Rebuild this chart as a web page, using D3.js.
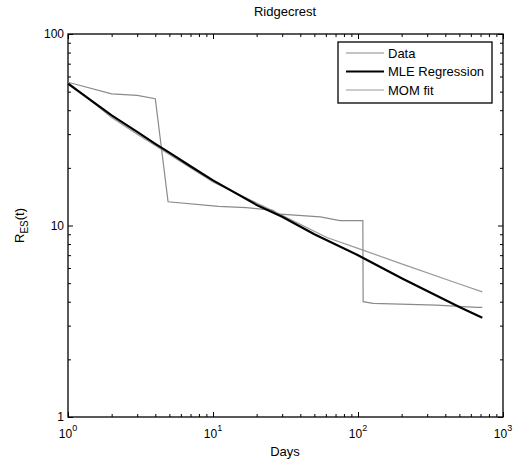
<!DOCTYPE html>
<html>
<head>
<meta charset="utf-8">
<script src="https://cdn.jsdelivr.net/npm/d3@7"></script>
<style>
  body { margin: 0; background: #fff; }
  text { font-family: "Liberation Sans", Arial, sans-serif; }
</style>
</head>
<body>
<svg id="chart" width="518" height="469"></svg>
<script>
// ---- data ----
const dataDays   = [1, 2, 3, 4, 4.9, 10.9, 17, 26, 27.5, 55, 75, 108, 108.5, 127, 347, 657, 720];
const dataValues = [56, 48.7, 47.8, 45.9, 13.3, 12.6, 12.4, 12.0, 11.5, 11.1, 10.6, 10.6, 4.0, 3.92, 3.84, 3.74, 3.74];

const mleDays   = [1, 2, 3, 4, 5, 7, 10, 20, 30, 50, 100, 200, 500, 720];
const mleValues = [55, 37.6, 30.8, 26.7, 24, 20.4, 17.2, 12.8, 11.1, 9.0, 7.0, 5.3, 3.75, 3.3];

const momDays   = [1, 2, 3, 4, 5, 10, 20, 30, 61, 100, 200, 500, 720];
const momValues = [56, 36.6, 30, 26.2, 23.5, 16.9, 13.1, 11.3, 8.65, 7.6, 6.3, 4.95, 4.5];

const xTickExps = [0, 1, 2, 3];
const yTickLabels = ["1", "10", "100"];
const legendLabels = ["Data", "MLE Regression", "MOM fit"];

// ---- layout ----
const svg = d3.select("#chart");
const L = 68, R = 503, T = 34, B = 417;

const x = d3.scaleLog().domain([1, 1000]).range([L, R]);
const y = d3.scaleLog().domain([1, 100]).range([B, T]);

// minor/major ticks
const xMinor = [], yMinor = [];
for (let d = 1; d < 1000; d *= 10) for (let k = 2; k <= 9; k++) xMinor.push(d * k);
for (let d = 1; d < 100; d *= 10) for (let k = 2; k <= 9; k++) yMinor.push(d * k);
const xMajor = xTickExps.map(e => Math.pow(10, e));
const yMajor = [1, 10, 100];

const g = svg.append("g");

function addAxis(axisFn, scale, vals, size, transform) {
  const a = axisFn(scale).tickValues(vals).tickSize(size).tickFormat("");
  const sel = g.append("g").attr("transform", transform).call(a);
  sel.select(".domain").remove();
  sel.selectAll("line").attr("stroke", "#000").attr("stroke-width", 1);
  return sel;
}
addAxis(d3.axisTop, x, xMinor, 3, `translate(0,${B})`);
addAxis(d3.axisTop, x, xMajor, 5, `translate(0,${B})`);
addAxis(d3.axisBottom, x, xMinor, 3, `translate(0,${T})`);
addAxis(d3.axisBottom, x, xMajor, 5, `translate(0,${T})`);
addAxis(d3.axisRight, y, yMinor, 3, `translate(${L},0)`);
addAxis(d3.axisRight, y, yMajor, 5, `translate(${L},0)`);
addAxis(d3.axisLeft, y, yMinor, 3, `translate(${R},0)`);
addAxis(d3.axisLeft, y, yMajor, 5, `translate(${R},0)`);

g.append("rect").attr("x", L).attr("y", T).attr("width", R - L).attr("height", B - T)
  .attr("fill", "none").attr("stroke", "#000").attr("stroke-width", 1.3);

xTickExps.forEach(e => {
  const t = g.append("text").attr("x", x(Math.pow(10, e))).attr("y", B + 21)
    .attr("text-anchor", "middle").attr("font-size", 12).attr("fill", "#000");
  t.append("tspan").text("10");
  t.append("tspan").attr("dy", -7).attr("font-size", 9).text(e);
});
yTickLabels.forEach((lab, i) => {
  g.append("text").attr("x", L - 4).attr("y", y(yMajor[i]) + 4)
    .attr("text-anchor", "end").attr("font-size", 12).attr("fill", "#000").text(lab);
});

g.append("text").attr("x", 285).attr("y", 16).attr("text-anchor", "middle")
  .attr("font-size", 13).text("Ridgecrest");
g.append("text").attr("x", 285).attr("y", 456).attr("text-anchor", "middle")
  .attr("font-size", 13).text("Days");
const yl = g.append("text").attr("transform", `translate(24,${(T + B) / 2}) rotate(-90)`)
  .attr("text-anchor", "middle").attr("font-size", 13);
yl.append("tspan").text("R");
yl.append("tspan").attr("dy", 4).attr("font-size", 10).text("ES");
yl.append("tspan").attr("dy", -4).text("(t)");

const line = d3.line().x(d => x(d[0])).y(d => y(d[1]));
svg.append("clipPath").attr("id", "clip").append("rect")
  .attr("x", L).attr("y", T).attr("width", R - L).attr("height", B - T);
const lg = g.append("g").attr("clip-path", "url(#clip)");

lg.append("path").datum(d3.zip(momDays, momValues)).attr("d", line)
  .attr("fill", "none").attr("stroke", "#999").attr("stroke-width", 1.2);
lg.append("path").datum(d3.zip(dataDays, dataValues)).attr("d", line)
  .attr("fill", "none").attr("stroke", "#8a8a8a").attr("stroke-width", 1.2);
lg.append("path").datum(d3.zip(mleDays, mleValues)).attr("d", line)
  .attr("fill", "none").attr("stroke", "#000").attr("stroke-width", 2.2);

const leg = g.append("g");
leg.append("rect").attr("x", 338).attr("y", 42).attr("width", 154).attr("height", 61)
  .attr("fill", "#fff").attr("stroke", "#000").attr("stroke-width", 1.3);
const legStyles = [
  { stroke: "#8a8a8a", w: 1.2 },
  { stroke: "#000", w: 2.2 },
  { stroke: "#999", w: 1.2 }
];
legendLabels.forEach((lab, i) => {
  const yy = 53 + i * 18.5;
  leg.append("line").attr("x1", 346).attr("x2", 384).attr("y1", yy).attr("y2", yy)
    .attr("stroke", legStyles[i].stroke).attr("stroke-width", legStyles[i].w);
  leg.append("text").attr("x", 388).attr("y", yy + 4.5).attr("font-size", 13).text(lab);
});
</script>
</body>
</html>
